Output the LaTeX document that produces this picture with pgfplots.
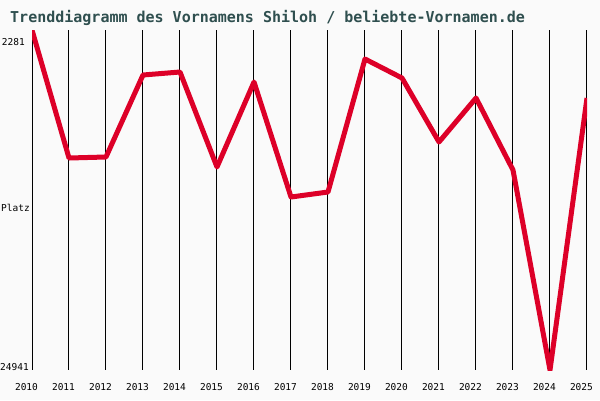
\documentclass[border=0pt]{standalone}
\usepackage{pgfplots}
\pgfplotsset{compat=1.18}
\usepackage{fontspec}
\setmainfont{DejaVu Sans Mono}
\setmonofont{DejaVu Sans Mono}
\definecolor{bg}{HTML}{FAFAFA}
\definecolor{ttl}{HTML}{2F4F4F}
\definecolor{ln}{HTML}{DD0028}
\begin{document}
\begin{tikzpicture}[x=1pt,y=1pt]
\useasboundingbox (0,0) rectangle (600,400);
\fill[bg] (0,0) rectangle (600,400);
\node[anchor=base west, font=\bfseries\fontsize{15}{18}\selectfont, text=ttl, inner sep=0] at (10,377) {Trenddiagramm des Vornamens Shiloh / beliebte-Vornamen.de};
\begin{axis}[
  at={(32pt,30pt)}, anchor=south west, scale only axis,
  width=555pt, height=340pt,
  xmin=2010, xmax=2025, ymin=2281, ymax=24941, y dir=reverse,
  scaled ticks=false,
  axis line style={draw=none},
  major tick length=0pt,
  xtick={2010,...,2025},
  xticklabels={2010,2011,2012,2013,2014,2015,2016,2017,2018,2019,2020,2021,2022,2023,2024,2025},
  xmajorgrids,
  major grid style={black, line width=1pt},
  ytick={3081,14145,24742},
  yticklabels={2281\kern5pt,Platz,24941\kern1pt},
  ticklabel style={font=\fontsize{9.5}{11}\selectfont, inner sep=0pt},
  xticklabel style={anchor=center, yshift=-17pt, xshift=-5.5pt},
  yticklabel style={anchor=east, xshift=-2pt},
]
\addplot[ln, line width=5pt, line join=round] coordinates {
(2010,2281) (2011,10812) (2012,10745) (2013,5280) (2014,5080) (2015,11412)
(2016,5747) (2017,13412) (2018,13078) (2019,4214) (2020,5480) (2021,9746)
(2022,6813) (2023,11612) (2024,24941) (2025,6813)
};
\end{axis}
\end{tikzpicture}
\end{document}
